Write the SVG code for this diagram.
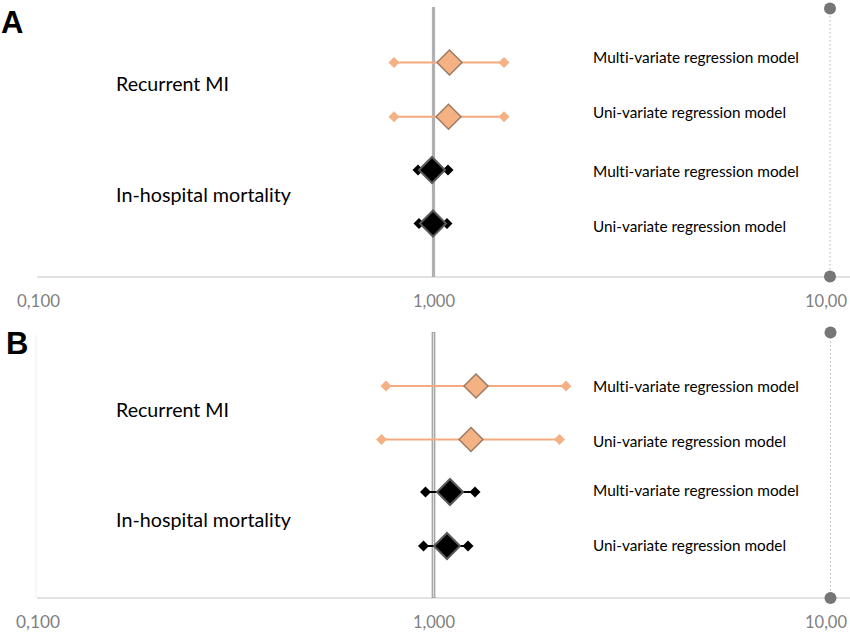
<svg xmlns="http://www.w3.org/2000/svg" width="850" height="633" viewBox="0 0 850 633">
<style>
text{font-variant-ligatures:none;font-feature-settings:"liga" 0,"clig" 0}
.panel{font-family:"Liberation Sans",Arial,sans-serif;font-weight:bold;font-size:31px;fill:#000}
.cat{font-family:Lato,"Open Sans",sans-serif;font-size:18.5px;fill:#000}
.mod{font-family:Lato,"Open Sans",sans-serif;font-size:16px;fill:#000}
.tick{font-family:Lato,"Open Sans",sans-serif;font-size:17.5px;fill:#7f7f7f}
.axis{stroke:#d9d9d9;stroke-width:1.6;fill:none}
.dotted{stroke:#c0c0c0;stroke-width:1.2;stroke-dasharray:1.5 2.5;fill:none}
.dot{fill:#767676}
.ref{stroke:#b0b0b0;stroke-width:3.2;fill:none}
.refB{stroke:#a8a8a8;stroke-width:3.8;fill:none}
.refin{stroke:#dcdcdc;stroke-width:1;fill:none}
.wo{stroke:#f4a97e;stroke-width:2;fill:none}
.eo{fill:#f4b183}
.co{fill:#f4b183;stroke:#9c7b63;stroke-width:1.5}
.wb{stroke:#000;stroke-width:2;fill:none}
.eb{fill:#000}
.cb{fill:#000;stroke:#5a5a5a;stroke-width:2}
</style>
<rect width="850" height="633" fill="#fff"/>

<g id="panelA">
  <text class="panel" x="1" y="33">A</text>
  <line class="axis" x1="37" y1="277" x2="850" y2="277"/>
  <line class="dotted" x1="830" y1="8" x2="830" y2="277"/>
  <line class="ref" x1="433.5" y1="7" x2="433.5" y2="277"/>
  <circle class="dot" cx="830" cy="8.5" r="6"/>
  <circle class="dot" cx="830" cy="276.5" r="6"/>
  <text class="tick" x="17" y="307" textLength="43" lengthAdjust="spacingAndGlyphs">0,100</text>
  <text class="tick" x="413" y="307" textLength="42" lengthAdjust="spacingAndGlyphs">1,000</text>
  <text class="tick" x="805" y="307" textLength="42" lengthAdjust="spacingAndGlyphs">10,00</text>
  <text class="cat" x="116" y="90.7" textLength="113" lengthAdjust="spacingAndGlyphs">Recurrent MI</text>
  <text class="cat" x="116" y="201.7" textLength="175" lengthAdjust="spacingAndGlyphs">In-hospital mortality</text>
  <text class="mod" x="593" y="63.3" textLength="206" lengthAdjust="spacingAndGlyphs">Multi-variate regression model</text>
  <text class="mod" x="593" y="118.3" textLength="193" lengthAdjust="spacingAndGlyphs">Uni-variate regression model</text>
  <text class="mod" x="593" y="176.7" textLength="206" lengthAdjust="spacingAndGlyphs">Multi-variate regression model</text>
  <text class="mod" x="593" y="231.7" textLength="193" lengthAdjust="spacingAndGlyphs">Uni-variate regression model</text>
  <g id="A-rmi-multi">
    <line class="wo" x1="394" y1="62.5" x2="504" y2="62.5"/>
    <polygon class="eo" points="388.5,62.5 394,57 399.5,62.5 394,68"/>
    <polygon class="eo" points="498.5,62.5 504,57 509.5,62.5 504,68"/>
    <polygon class="co" points="437,62.5 449.5,50 462,62.5 449.5,75"/>
  </g>
  <g id="A-rmi-uni">
    <line class="wo" x1="394" y1="116.7" x2="504" y2="116.7"/>
    <polygon class="eo" points="388.5,116.7 394,111.2 399.5,116.7 394,122.2"/>
    <polygon class="eo" points="498.5,116.7 504,111.2 509.5,116.7 504,122.2"/>
    <polygon class="co" points="436,116.7 448.5,104.2 461,116.7 448.5,129.2"/>
  </g>
  <g id="A-ihm-multi">
    <line class="wb" x1="418" y1="170" x2="448" y2="170"/>
    <polygon class="eb" points="412.5,170 418,164.5 423.5,170 418,175.5"/>
    <polygon class="eb" points="442.5,170 448,164.5 453.5,170 448,175.5"/>
    <polygon class="cb" points="419,170 432,157 445,170 432,183"/>
  </g>
  <g id="A-ihm-uni">
    <line class="wb" x1="419" y1="223.5" x2="447" y2="223.5"/>
    <polygon class="eb" points="413.5,223.5 419,218 424.5,223.5 419,229"/>
    <polygon class="eb" points="441.5,223.5 447,218 452.5,223.5 447,229"/>
    <polygon class="cb" points="420,223.5 433,210.5 446,223.5 433,236.5"/>
  </g>
</g>

<g id="panelB">
  <text class="panel" x="6" y="354">B</text>
  <line x1="36" y1="335" x2="36" y2="598" stroke="#efefef" stroke-width="1"/>
  <line class="axis" x1="37" y1="598" x2="850" y2="598"/>
  <line class="dotted" x1="830.5" y1="333" x2="830.5" y2="598"/>
  <line class="refB" x1="433.5" y1="332" x2="433.5" y2="598"/>
  <line class="refin" x1="433.5" y1="333" x2="433.5" y2="597"/>
  <circle class="dot" cx="830.5" cy="332.5" r="6"/>
  <circle class="dot" cx="830.5" cy="598" r="6"/>
  <text class="tick" x="16" y="628" textLength="44" lengthAdjust="spacingAndGlyphs">0,100</text>
  <text class="tick" x="413" y="628" textLength="42" lengthAdjust="spacingAndGlyphs">1,000</text>
  <text class="tick" x="805" y="628" textLength="42" lengthAdjust="spacingAndGlyphs">10,00</text>
  <text class="cat" x="116" y="416.7" textLength="113" lengthAdjust="spacingAndGlyphs">Recurrent MI</text>
  <text class="cat" x="116" y="526.7" textLength="175" lengthAdjust="spacingAndGlyphs">In-hospital mortality</text>
  <text class="mod" x="593" y="391.7" textLength="206" lengthAdjust="spacingAndGlyphs">Multi-variate regression model</text>
  <text class="mod" x="593" y="447" textLength="193" lengthAdjust="spacingAndGlyphs">Uni-variate regression model</text>
  <text class="mod" x="593" y="496" textLength="206" lengthAdjust="spacingAndGlyphs">Multi-variate regression model</text>
  <text class="mod" x="593" y="550.7" textLength="193" lengthAdjust="spacingAndGlyphs">Uni-variate regression model</text>
  <g id="B-rmi-multi">
    <line class="wo" x1="386" y1="386" x2="566" y2="386"/>
    <polygon class="eo" points="380.5,386 386,380.5 391.5,386 386,391.5"/>
    <polygon class="eo" points="560.5,386 566,380.5 571.5,386 566,391.5"/>
    <polygon class="co" points="464,386 476,374 488,386 476,398"/>
  </g>
  <g id="B-rmi-uni">
    <line class="wo" x1="381.5" y1="439.5" x2="559.5" y2="439.5"/>
    <polygon class="eo" points="376,439.5 381.5,434 387,439.5 381.5,445"/>
    <polygon class="eo" points="554,439.5 559.5,434 565,439.5 559.5,445"/>
    <polygon class="co" points="459,439.5 471,427.5 483,439.5 471,451.5"/>
  </g>
  <g id="B-ihm-multi">
    <line class="wb" x1="425.5" y1="492" x2="475" y2="492"/>
    <polygon class="eb" points="420,492 425.5,486.5 431,492 425.5,497.5"/>
    <polygon class="eb" points="469.5,492 475,486.5 480.5,492 475,497.5"/>
    <polygon class="cb" points="437,492 450,479 463,492 450,505"/>
  </g>
  <g id="B-ihm-uni">
    <line class="wb" x1="423.5" y1="546" x2="468" y2="546"/>
    <polygon class="eb" points="418,546 423.5,540.5 429,546 423.5,551.5"/>
    <polygon class="eb" points="462.5,546 468,540.5 473.5,546 468,551.5"/>
    <polygon class="cb" points="434,546 447,533 460,546 447,559"/>
  </g>
</g>
</svg>
